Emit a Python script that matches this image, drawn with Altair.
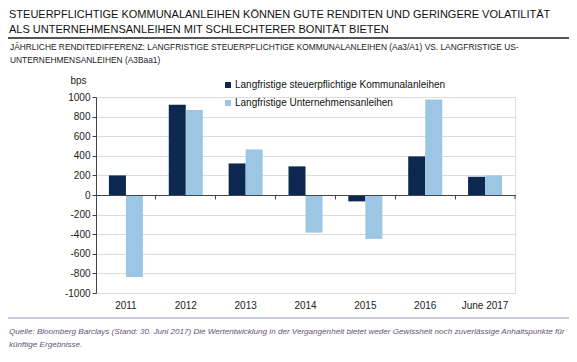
import altair as alt
import pandas as pd

categories = ["2011", "2012", "2013", "2014", "2015", "2016", "June 2017"]
series_names = ["Langfristige steuerpflichtige Kommunalanleihen", "Langfristige Unternehmensanleihen"]
muni_values = [200, 920, 322, 292, -65, 394, 186]
corp_values = [-836, 868, 465, -384, -448, 974, 200]
y_ticks = [-1000, -800, -600, -400, -200, 0, 200, 400, 600, 800, 1000]
colors = ["#0c2850", "#9cc6e3"]

title_lines = ["STEUERPFLICHTIGE KOMMUNALANLEIHEN KÖNNEN GUTE RENDITEN UND GERINGERE VOLATILITÄT",
               "ALS UNTERNEHMENSANLEIHEN MIT SCHLECHTERER BONITÄT BIETEN"]
subtitle_lines = ["JÄHRLICHE RENDITEDIFFERENZ: LANGFRISTIGE STEUERPFLICHTIGE KOMMUNALANLEIHEN (Aa3/A1) VS. LANGFRISTIGE US-",
                  "UNTERNEHMENSANLEIHEN (A3Baa1)"]
footer_lines = ["Quelle: Bloomberg Barclays (Stand: 30. Juni 2017) Die Wertentwicklung in der Vergangenheit bietet weder Gewissheit noch zuverlässige Anhaltspunkte für",
                "künftige Ergebnisse."]

rows = []
for c, m, k in zip(categories, muni_values, corp_values):
    rows.append({"cat": c, "series": series_names[0], "value": m})
    rows.append({"cat": c, "series": series_names[1], "value": k})
df = pd.DataFrame(rows)

W, H = 419, 196
FONT = "Liberation Sans"

bars = alt.Chart(df).mark_bar().encode(
    x=alt.X("cat:N", sort=categories,
            scale=alt.Scale(paddingInner=0, paddingOuter=0),
            axis=alt.Axis(title=None, orient="bottom", offset=-H / 2, bandPosition=0,
                          domainColor="#444444", domainWidth=1, tickColor="#444444", tickSize=4,
                          labelAngle=0, labelPadding=101, labelBaseline="top",
                          labelFont=FONT, labelFontSize=10, labelColor="#222222", zindex=1)),
    xOffset=alt.XOffset("series:N", sort=series_names,
                        scale=alt.Scale(paddingInner=0, paddingOuter=0.76)),
    y=alt.Y("value:Q", scale=alt.Scale(domain=[-1000, 1000], nice=False),
            axis=alt.Axis(values=y_ticks, labelExpr="datum.value + ''", title="bps", titleAngle=0,
                          titleX=-18, titleY=-12,
                          titleAlign="center", titleBaseline="bottom", titleFont=FONT,
                          titleFontSize=10, titleFontWeight="normal", titleColor="#222222",
                          grid=True, gridColor="#dcdcdc", gridWidth=1,
                          domainColor="#444444", tickColor="#444444", tickSize=4,
                          labelFont=FONT, labelFontSize=10, labelColor="#222222", labelPadding=2)),
    color=alt.Color("series:N", sort=series_names,
                    scale=alt.Scale(domain=series_names, range=colors),
                    legend=alt.Legend(title=None, orient="none", legendX=127, legendY=-17,
                                      symbolType="square", symbolSize=36, symbolStrokeWidth=0,
                                      labelFont=FONT, labelFontSize=10, labelColor="#111111",
                                      labelLimit=0, rowPadding=8, labelOffset=2, padding=0)),
)

end_tick = alt.Chart(pd.DataFrame({"a": [0]})).mark_rule(color="#444444").encode(
    x=alt.value(W), y=alt.value(H / 2), y2=alt.value(H / 2 + 4))

def tlayer(text, x, y, size, color, style="normal"):
    return alt.Chart(pd.DataFrame({"t": [text]})).mark_text(
        align="left", baseline="alphabetic", font=FONT, fontSize=size, color=color,
        fontStyle=style).encode(text="t:N", x=alt.value(x), y=alt.value(y))

sep = alt.Chart(pd.DataFrame({"a": [0]})).mark_rule(color="#555555", strokeWidth=2).encode(
    x=alt.value(-88), x2=alt.value(W + 54), y=alt.value(-59))
foot_rule = alt.Chart(pd.DataFrame({"a": [0]})).mark_rule(color="#9c90b8", strokeWidth=1).encode(
    x=alt.value(-88), x2=alt.value(W + 54), y=alt.value(221))

layers = [bars, end_tick, sep, foot_rule,
          tlayer(title_lines[0], -87, -79, 11, "#111111"),
          tlayer(title_lines[1], -87, -64, 11, "#111111"),
          tlayer(subtitle_lines[0], -86, -47, 8.4, "#222222"),
          tlayer(subtitle_lines[1], -86, -34, 8.4, "#222222"),
          tlayer(footer_lines[0], -87, 237, 8.1, "#5f5478", "italic"),
          tlayer(footer_lines[1], -87, 250, 8.1, "#5f5478", "italic")]

chart = alt.layer(*layers).properties(
    width=W, height=H,
    autosize=alt.AutoSizeParams(type="none"),
    padding={"left": 88, "top": 89, "right": 54, "bottom": 61},
).configure_view(stroke=None).configure(background="white")

chart.save("out.html", embed_options={"renderer": "svg", "actions": False})
